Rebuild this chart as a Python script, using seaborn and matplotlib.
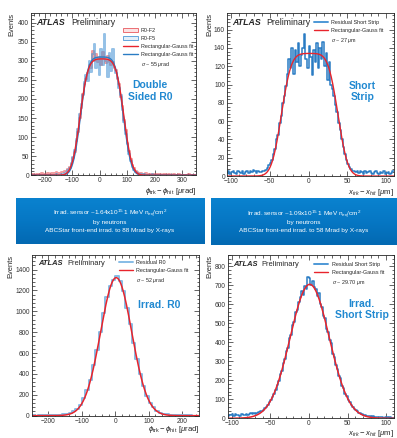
import math

import matplotlib
matplotlib.use("Agg")
import matplotlib.pyplot as plt
from matplotlib.lines import Line2D
from matplotlib.patches import Patch
from matplotlib.ticker import MultipleLocator
import numpy as np
import pandas as pd
import seaborn as sns

# ── data ──────────────────────────────────────────────────────────────────
# double sided R0, bins of 6 urad starting at -250
r0_bin_start, r0_bin_width = -250, 6
r0_f2_counts = [
    2, 3, 1, 4, 2, 3, 5, 2, 4, 3, 6, 4, 5, 7, 5, 8,
    6, 7, 8, 9, 10, 12, 15, 22, 30, 45,
    60, 90, 112, 150, 176, 212, 238, 252, 268, 290,
    282, 325, 300, 318, 296, 310, 288, 322, 305, 295,
    312, 298, 290, 296, 280, 276, 252, 238, 205, 182,
    145, 118, 85, 64, 42, 28, 18, 12, 8, 6, 5,
    4, 3, 5, 2, 4, 3, 2, 3, 1, 2, 3, 2, 1, 2, 3, 1, 2, 1, 0, 2,
    1, 1, 2, 0, 1, 1, 0, 1, 2, 0, 1, 0, 1,
]
r0_f5_counts = [
    0, 1, 0, 0, 1, 0, 0, 1, 0, 0, 1, 0, 1, 0, 1, 2,
    1, 1, 2, 3, 5, 8, 14, 20, 32, 48,
    66, 95, 120, 160, 188, 210, 245, 262, 248, 300,
    270, 318, 345, 280, 305, 262, 330, 290, 370, 300,
    258, 320, 272, 330, 285, 268, 255, 228, 210, 170,
    140, 108, 82, 55, 36, 22, 14, 8, 5, 3, 2,
    1, 2, 0, 1, 1, 0, 2, 1, 0, 1, 0, 1, 0, 0, 1, 0, 1, 0, 0, 1,
    0, 0, 0, 1, 0, 0, 1, 0, 0, 0, 1, 0, 0,
]
# short strip, bins of 2 um starting at -106
ss_bin_start, ss_bin_width = -106, 2
ss_counts = [
    3, 5, 2, 4, 6, 3, 2, 5, 4, 3, 6, 2, 4, 5, 3, 6, 4, 7, 5, 3, 6, 4,
    4, 5, 6, 7, 9, 12, 14, 18, 24, 30,
    40, 45, 58, 66, 80, 88, 98, 112, 128, 118,
    140, 112, 138, 125, 145, 120, 132, 140, 155, 128,
    118, 142, 130, 110, 138, 125, 145, 118, 140, 128,
    147, 120, 135, 105, 125, 100, 95, 88, 78, 70,
    58, 50, 40, 32, 24, 18, 13, 10, 8, 6, 5,
    4, 6, 3, 5, 4, 2, 5, 3, 4, 6, 3, 2, 4, 5, 3, 2, 4, 3, 5, 2, 3, 4, 2, 3, 5,
]
# irradiated R0, bins of 10 urad starting at -250
irr_r0_bin_start, irr_r0_bin_width = -250, 10
irr_r0_counts = [
    2, 1, 2, 3, 2, 4, 3, 5, 8, 14,
    20, 28, 42, 62, 105, 165, 245, 340, 490, 630,
    800, 985, 1140, 1240, 1300, 1340, 1290, 1190, 1030, 880,
    700, 540, 400, 285, 190, 125, 80, 48, 28, 18,
    12, 8, 6, 5, 4, 3, 2, 2, 1, 1,
]
# irradiated short strip, bins of 2 um starting at -106
irr_ss_bin_start, irr_ss_bin_width = -106, 2
irr_ss_counts = [
    12, 18, 15, 20, 14, 22, 17, 19, 13, 21, 16, 18, 24, 19, 22, 26, 20, 28, 24, 30,
    33, 36, 40, 46, 52, 60, 70, 84, 98, 112,
    128, 150, 176, 195, 232, 250, 292, 310, 355, 372,
    425, 440, 492, 505, 560, 570, 612, 640, 668, 650,
    695, 680, 742, 738, 700, 725, 690, 680, 645, 660,
    600, 585, 540, 530, 470, 455, 410, 395, 340, 325,
    280, 262, 222, 210, 172, 160, 130, 118, 96, 88,
    70, 62, 50, 44, 36, 30, 26, 22, 18, 16,
    13, 11, 12, 9, 10, 8, 9, 6, 8, 5, 7, 4, 6, 5, 3, 5, 4, 3,
]

# rectangular-gauss fit parameters: (peak, box low, box high, gauss sigma)
fit_r0_f2 = (305, -72, 88, 23)
fit_r0_f5 = (310, -70, 86, 22)
fit_ss = (134, -35, 38, 10)
fit_irr_r0 = (1322, -10, 15, 46)
fit_irr_ss = (705, -12, 14, 24)

box_texts = [
    ["Irrad. sensor ~1.64x10$^{15}$ 1 MeV n$_{\\rm eq}$/cm$^{2}$", "by neutrons",
     "ABCStar front-end irrad. to 88 Mrad by X-rays"],
    ["Irrad. sensor ~1.09x10$^{15}$ 1 MeV n$_{\\rm eq}$/cm$^{2}$", "by neutrons",
     "ABCStar front-end irrad. to 58 Mrad by X-rays"],
]

# ── style ────────────────────────────────────────────────────────────────
sns.set_style("ticks")
plt.rcParams["font.family"] = ["Liberation Sans", "DejaVu Sans"]
plt.rcParams["mathtext.fontset"] = "custom"
plt.rcParams["mathtext.rm"] = "Liberation Sans"
plt.rcParams["mathtext.it"] = "Liberation Sans:italic"
plt.rcParams["mathtext.bf"] = "Liberation Sans:bold"

RED = "#e8242c"
RED_H = "#e8595f"
BLUE = "#2a7cc4"
BLUE_H = "#4d98d6"
BLUE_L = "#86bce6"
LABEL_BLUE = "#2189d1"


def rect_gauss(x, peak, lo, hi, sigma):
    s = sigma * math.sqrt(2)
    g = np.array([math.erf((v - lo) / s) - math.erf((v - hi) / s) for v in x])
    mid = 0.5 * (lo + hi)
    return peak * g / (math.erf((mid - lo) / s) - math.erf((mid - hi) / s))


def draw_hist(ax, counts, start, width, color, lw, alpha=1.0):
    counts = np.asarray(counts, dtype=float)
    centers = start + width * (np.arange(len(counts)) + 0.5)
    df = pd.DataFrame({"x": centers, "n": counts})
    sns.histplot(data=df, x="x", weights="n", binwidth=width,
                 binrange=(start, start + width * len(counts)), element="step",
                 fill=False, color=color, linewidth=lw, alpha=alpha, ax=ax)


def style_axis(ax, xlim, ylim, xmaj, xmin, ymaj, ymin, xlabel, lx, ly):
    ax.set_xlim(*xlim)
    ax.set_ylim(*ylim)
    ax.xaxis.set_major_locator(MultipleLocator(xmaj))
    ax.xaxis.set_minor_locator(MultipleLocator(xmin))
    ax.yaxis.set_major_locator(MultipleLocator(ymaj))
    ax.yaxis.set_minor_locator(MultipleLocator(ymin))
    ax.tick_params(which="both", direction="in", top=True, right=True,
                   labelsize=4.8, width=0.5, pad=1.5, labelcolor="#333333")
    ax.tick_params(which="major", length=3.5)
    ax.tick_params(which="minor", length=1.8)
    for sp in ax.spines.values():
        sp.set_linewidth(0.6)
    ax.set_xlabel(xlabel, fontsize=5.6, loc="right")
    ax.set_ylabel("Events", fontsize=5.4, loc="top")
    ax.xaxis.set_label_coords(1.0, lx)
    ax.yaxis.set_label_coords(ly, 1.0)


def atlas_label(ax, x, y, x2, size):
    ax.text(x, y, "ATLAS", transform=ax.transAxes, fontsize=size, fontweight="bold",
            fontstyle="italic", va="center", ha="left")
    ax.text(x2, y, "Preliminary", transform=ax.transAxes, fontsize=size,
            va="center", ha="left")


def legend(ax, handles, labels, anchor):
    ax.legend(handles, labels, loc="upper left", bbox_to_anchor=anchor, frameon=False,
              fontsize=3.9, handlelength=2.6, handleheight=0.9, labelspacing=0.55,
              handletextpad=0.6, borderaxespad=0, borderpad=0)


blank = Line2D([], [], color="none")
phi_label = r"$\phi_{\rm trk} - \phi_{\rm hit}$ [$\mu$rad]"
x_label = r"$x_{trk} - x_{hit}$ [$\mu$m]"

fig = plt.figure(figsize=(3.97, 4.38), dpi=100)
fig.patch.set_facecolor("white")

# ── Double sided R0 ──────────────────────────────────────────────────────
ax1 = fig.add_axes([0.078, 0.600, 0.416, 0.370])
draw_hist(ax1, r0_f2_counts, r0_bin_start, r0_bin_width, RED_H, 1.4, 0.6)
draw_hist(ax1, r0_f5_counts, r0_bin_start, r0_bin_width, BLUE_H, 1.4, 0.6)
xs = np.linspace(-250, 350, 600)
ax1.plot(xs, rect_gauss(xs, *fit_r0_f5), color=BLUE, lw=1.0)
ax1.plot(xs, rect_gauss(xs, *fit_r0_f2), color=RED, lw=1.0)
style_axis(ax1, (-250, 350), (0, 425), 100, 20, 50, 10, phi_label, -0.065, -0.094)
atlas_label(ax1, 0.03, 0.944, 0.245, 6.3)
legend(ax1, [Patch(facecolor="#fbe3e4", edgecolor=RED_H, lw=0.6),
             Patch(facecolor="#e3eff9", edgecolor=BLUE_H, lw=0.6),
             Line2D([], [], color=RED, lw=1.0), Line2D([], [], color=BLUE, lw=1.0), blank],
       ["R0-F2", "R0-F5", "Rectangular-Gauss fit", "Rectangular-Gauss fit",
        r"$\sigma$ ~ 55 $\mu$rad"], (0.56, 0.91))
ax1.text(0.72, 0.52, "Double\nSided R0", transform=ax1.transAxes, fontsize=7.5,
         fontweight="bold", color=LABEL_BLUE, ha="center", va="center", linespacing=1.15)

# ── Short strip ──────────────────────────────────────────────────────────
ax2 = fig.add_axes([0.572, 0.598, 0.420, 0.372])
draw_hist(ax2, ss_counts, ss_bin_start, ss_bin_width, BLUE, 1.1)
xs = np.linspace(-105, 110, 600)
ax2.plot(xs, rect_gauss(xs, *fit_ss), color=RED, lw=1.0)
style_axis(ax2, (-105, 110), (0, 178), 50, 10, 20, 4, x_label, -0.065, -0.084)
atlas_label(ax2, 0.03, 0.94, 0.235, 6.3)
legend(ax2, [Line2D([], [], color=BLUE_H, lw=1.4), Line2D([], [], color=RED, lw=1.0), blank],
       ["Residual Short Strip", "Rectangular-Gauss fit", r"$\sigma$ ~ 27 $\mu$m"],
       (0.52, 0.96))
ax2.text(0.81, 0.52, "Short\nStrip", transform=ax2.transAxes, fontsize=7.5,
         fontweight="bold", color=LABEL_BLUE, ha="center", va="center", linespacing=1.15)

# ── info boxes ───────────────────────────────────────────────────────────
grad = np.linspace(0, 1, 64).reshape(-1, 1)
box_cmap = matplotlib.colors.LinearSegmentedColormap.from_list(
    "box", ["#0a82cf", "#0677c4", "#0369b2"])
for rect, lines in zip([[0.040, 0.443, 0.474, 0.105], [0.531, 0.441, 0.469, 0.107]],
                       box_texts):
    bax = fig.add_axes(rect)
    bax.imshow(grad, aspect="auto", cmap=box_cmap, extent=(0, 1, 0, 1))
    bax.set_axis_off()
    for yy, line in zip([0.66, 0.47, 0.30], lines):
        bax.text(0.5, yy, line, color="white", fontsize=4.6, ha="center", va="center")

# ── Irradiated R0 ────────────────────────────────────────────────────────
ax3 = fig.add_axes([0.080, 0.051, 0.421, 0.367])
draw_hist(ax3, irr_r0_counts, irr_r0_bin_start, irr_r0_bin_width, BLUE_L, 1.4)
xs = np.linspace(-250, 250, 600)
ax3.plot(xs, rect_gauss(xs, *fit_irr_r0), color=RED, lw=1.1)
style_axis(ax3, (-250, 250), (0, 1540), 100, 20, 200, 40, phi_label, -0.05, -0.106)
atlas_label(ax3, 0.038, 0.944, 0.212, 5.4)
legend(ax3, [Line2D([], [], color=BLUE_L, lw=1.4), Line2D([], [], color=RED, lw=1.0), blank],
       ["Residual R0", "Rectangular-Gauss fit", r"$\sigma$ ~ 52 $\mu$rad"], (0.52, 0.97))
ax3.text(0.76, 0.69, "Irrad. R0", transform=ax3.transAxes, fontsize=7.5,
         fontweight="bold", color=LABEL_BLUE, ha="center", va="center")

# ── Irradiated short strip ───────────────────────────────────────────────
ax4 = fig.add_axes([0.574, 0.045, 0.418, 0.373])
draw_hist(ax4, irr_ss_counts, irr_ss_bin_start, irr_ss_bin_width, BLUE, 1.1)
xs = np.linspace(-105, 110, 600)
ax4.plot(xs, rect_gauss(xs, *fit_irr_ss), color=RED, lw=1.1)
style_axis(ax4, (-105, 110), (0, 860), 50, 10, 100, 20, x_label, -0.058, -0.09)
atlas_label(ax4, 0.03, 0.94, 0.20, 5.4)
legend(ax4, [Line2D([], [], color=BLUE_H, lw=1.4), Line2D([], [], color=RED, lw=1.0), blank],
       ["Residual Short Strip", "Rectangular-Gauss fit", r"$\sigma$ ~ 29.70 $\mu$m"],
       (0.52, 0.96))
ax4.text(0.807, 0.665, "Irrad.\nShort Strip", transform=ax4.transAxes, fontsize=7.5,
         fontweight="bold", color=LABEL_BLUE, ha="center", va="center", linespacing=1.15)

fig.savefig("out.png", dpi=100, facecolor="white")
